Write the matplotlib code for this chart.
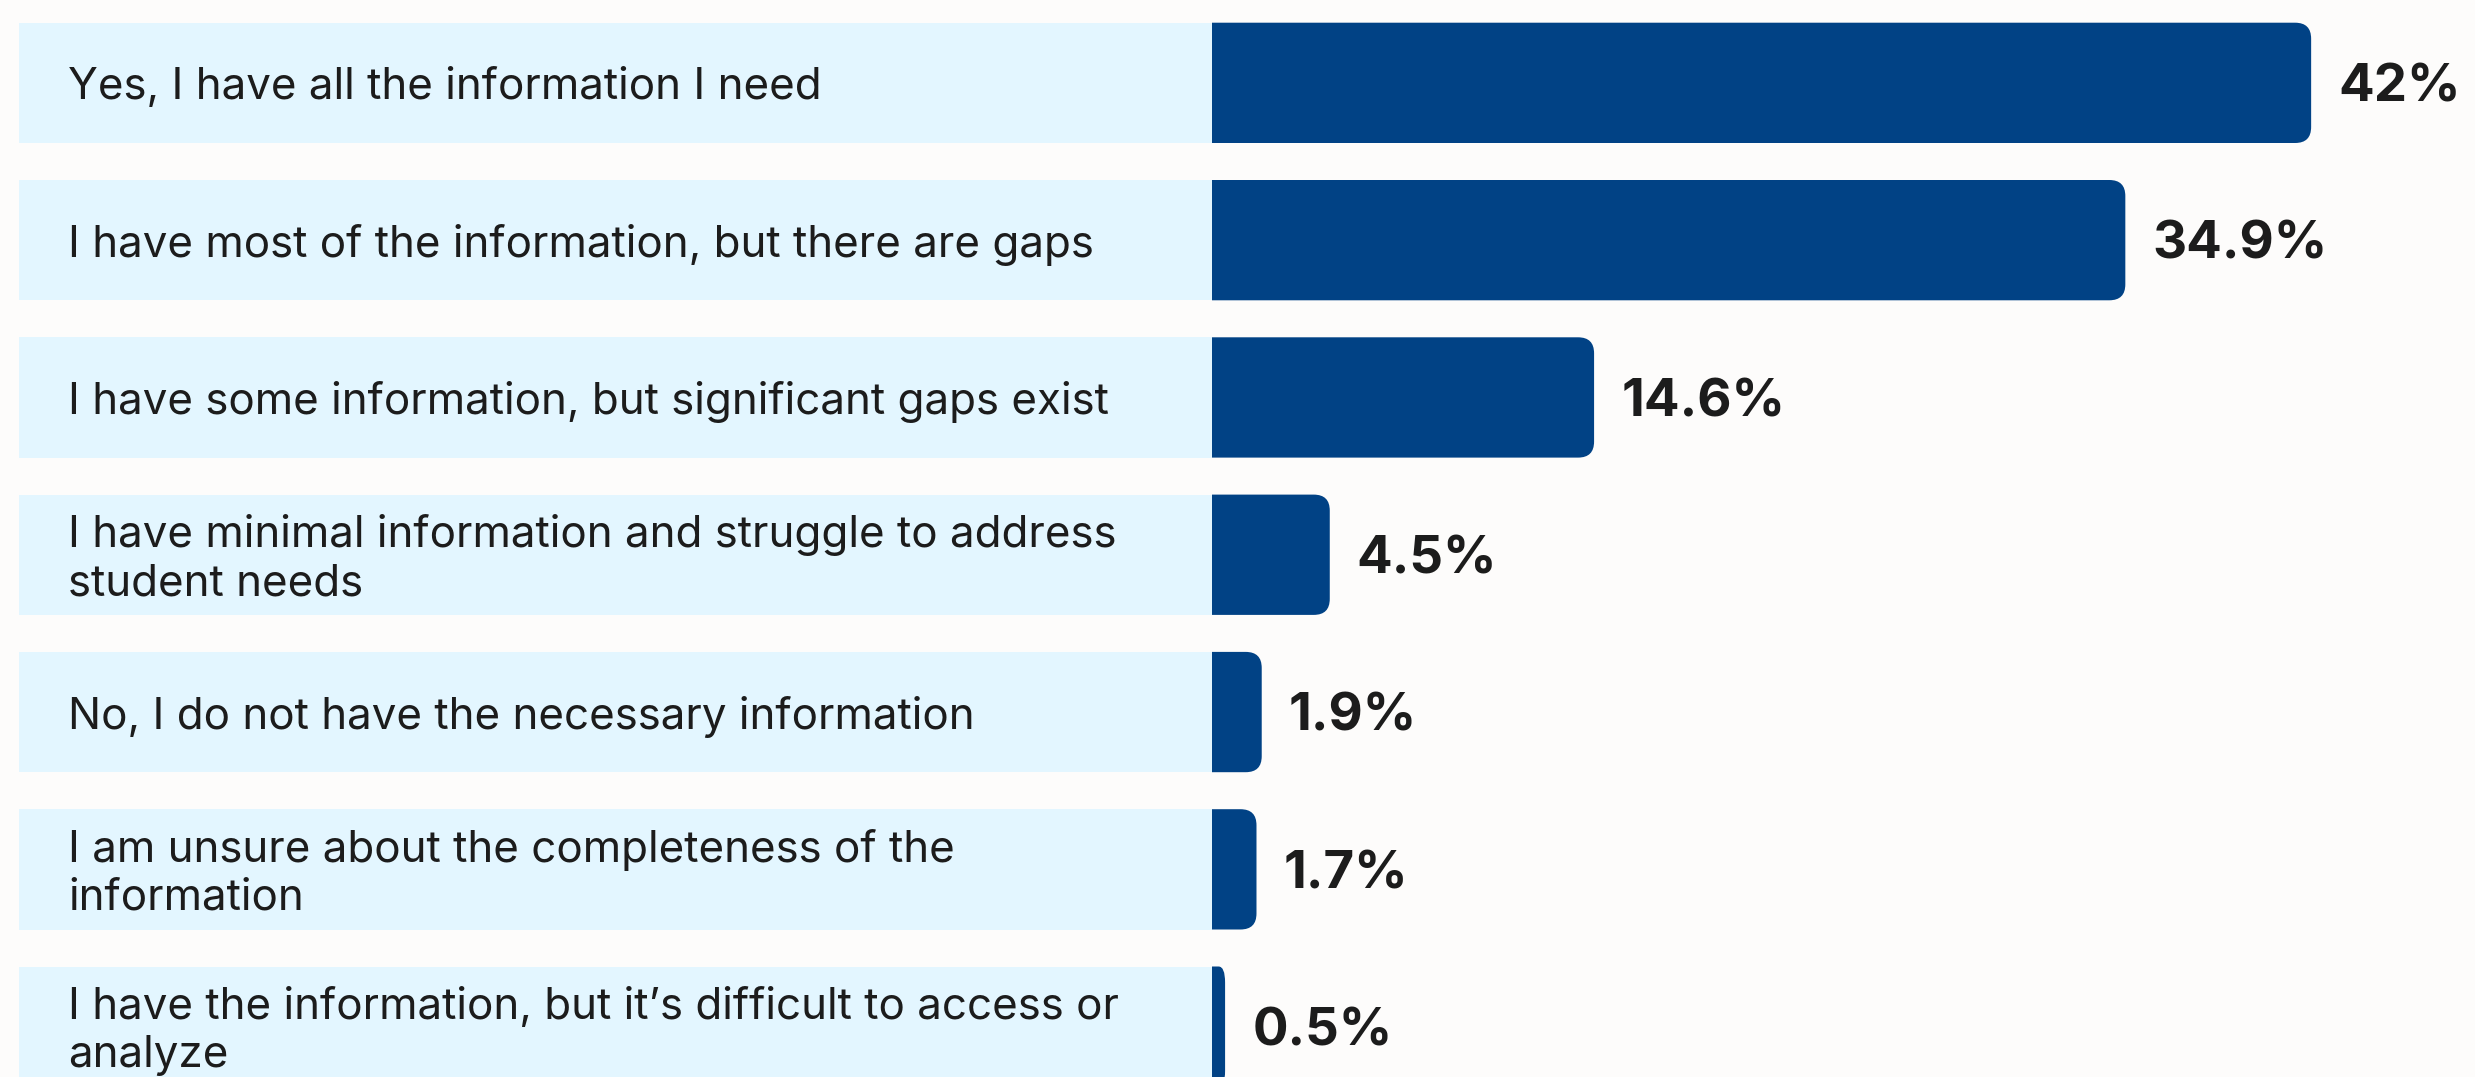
import matplotlib
matplotlib.use("Agg")
import matplotlib.pyplot as plt
from matplotlib.patches import PathPatch, Rectangle
from matplotlib.path import Path

labels = [
    "Yes, I have all the information I need",
    "I have most of the information, but there are gaps",
    "I have some information, but significant gaps exist",
    "I have minimal information and struggle to address\nstudent needs",
    "No, I do not have the necessary information",
    "I am unsure about the completeness of the\ninformation",
    "I have the information, but it\u2019s difficult to access or\nanalyze",
]
values = [42, 34.9, 14.6, 4.5, 1.9, 1.7, 0.5]
value_text = ["42%", "34.9%", "14.6%", "4.5%", "1.9%", "1.7%", "0.5%"]

# layout in pixels (figure is 2475 x 1077 at dpi 100)
W, H = 2475, 1077
PX_PER_PCT = 26.17
ZERO_X = 1212
BOX_LEFT = 19
TEXT_X = 68
ROW_PITCH = 157.3
BAR_H = 120.3
FIRST_TOP = 22.7
RADIUS = 16
LINE_STEP = 48      # px between label lines
LABEL_BASE = 16.5   # baseline below row centre, px
VALUE_BASE = 18.8

BG = "#FDFCFB"
LIGHT = "#E3F6FF"
DARK = "#014285"
INK = "#1C1C1C"

plt.rcParams["font.family"] = ["Inter", "DejaVu Sans"]


def right_rounded(x1, y0, y1, rx, ry):
    verts = [(0, y0), (x1 - rx, y0), (x1, y0), (x1, y0 + ry),
             (x1, y1 - ry), (x1, y1), (x1 - rx, y1), (0, y1), (0, y0)]
    codes = [Path.MOVETO, Path.LINETO, Path.CURVE3, Path.CURVE3,
             Path.LINETO, Path.CURVE3, Path.CURVE3, Path.LINETO, Path.CLOSEPOLY]
    return Path(verts, codes)


fig = plt.figure(figsize=(W / 100, H / 100), dpi=100, facecolor=BG)
ax = fig.add_axes([0, 0, 1, 1])
ax.set_facecolor(BG)
ax.axis("off")

first_c = (FIRST_TOP + BAR_H / 2) / ROW_PITCH
ax.set_xlim(-ZERO_X / PX_PER_PCT, (W - ZERO_X) / PX_PER_PCT)
ax.set_ylim((H / ROW_PITCH) - first_c, -first_c)

bh = BAR_H / ROW_PITCH
box_left = (BOX_LEFT - ZERO_X) / PX_PER_PCT
text_x = (TEXT_X - ZERO_X) / PX_PER_PCT
ry = RADIUS / ROW_PITCH

for i, (lab, v, vt) in enumerate(zip(labels, values, value_text)):
    y0 = i - bh / 2
    ax.add_patch(Rectangle((box_left, y0), -box_left, bh, facecolor=LIGHT,
                           edgecolor="none", zorder=1))
    rx = min(RADIUS / PX_PER_PCT, v / 2)
    ax.add_patch(PathPatch(right_rounded(v, y0, y0 + bh, rx, ry),
                           facecolor=DARK, edgecolor="none", zorder=2))
    lines = lab.split("\n")
    n = len(lines)
    for k, line in enumerate(lines):
        yb = i + (LABEL_BASE + (k - (n - 1) / 2) * LINE_STEP) / ROW_PITCH
        ax.text(text_x, yb, line, fontsize=31.6, color=INK, va="baseline",
                ha="left", zorder=3)
    ax.annotate(vt, (v, i + VALUE_BASE / ROW_PITCH), xytext=(19.5, 0),
                textcoords="offset points", fontsize=38, fontweight="bold",
                color=INK, va="baseline", ha="left", zorder=3)

fig.savefig("out.png", dpi=100, facecolor=BG)
